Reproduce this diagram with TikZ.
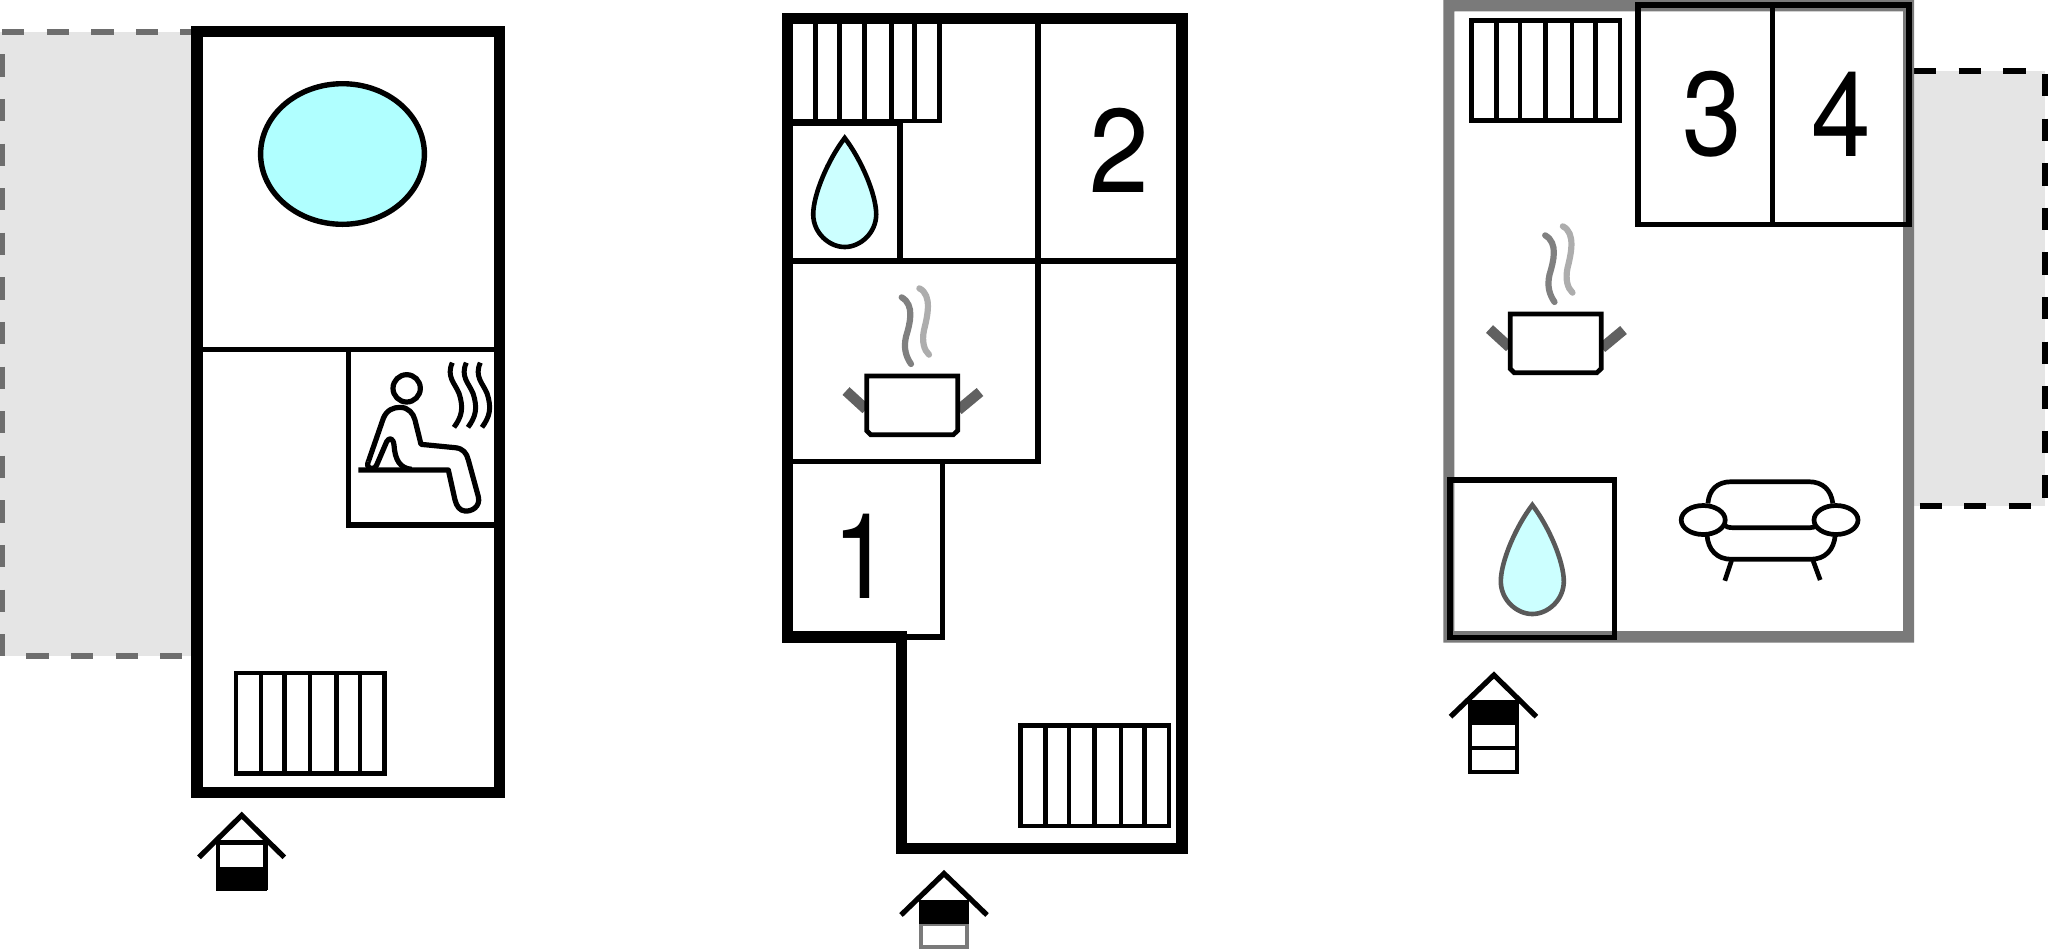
\documentclass[tikz,border=0pt]{standalone}
\usepackage{fontspec}
\setmainfont{TeX Gyre Heros}
\definecolor{yard}{HTML}{E5E5E5}
\definecolor{wallgray}{HTML}{7A7A7A}
\definecolor{dashgray}{HTML}{6E6E6E}
\definecolor{pool}{HTML}{B0FFFF}
\definecolor{dropblue}{HTML}{CCFFFF}
\tikzset{
  wall/.style={draw=black,line width=5.75pt,miter limit=10},
  partition/.style={draw=black,line width=2.7pt},
  furn/.style={draw=black,line width=2.35pt},
  yarddash/.style={line width=2.8pt,dash pattern=on 11.15pt off 11.15pt},
  digit/.style={inner sep=0pt,anchor=base,xscale=.9,font=\fontsize{59.5}{60}\selectfont},
}
\newcommand{\radiatoricon}[2]{%
  \begin{scope}[shift={(#1,#2)}]
    \draw[furn] (0,0) rectangle (148.5,100.5);
    \foreach \vx in {25,48.5,74,100.5,124} \draw[furn] (\vx,0) -- (\vx,100.5);
  \end{scope}}
\newcommand{\dropicon}[4]{%
  \begin{scope}[shift={(#1,#2)},xscale=31.5,yscale=109]
    \draw[line width=2.3pt,draw=#3,fill=#4,line join=miter]
      (0,0) .. controls (-.53,.2) and (-1,.52) .. (-1,.7)
      .. controls (-1,.87) and (-.5,1) .. (0,1)
      .. controls (.5,1) and (1,.87) .. (1,.7)
      .. controls (1,.52) and (.53,.2) .. (0,0) -- cycle;
  \end{scope}}
\newcommand{\poticon}[2]{%
  \begin{scope}[shift={(#1,#2)},scale=.33333]
    \draw[line width=5.2pt,draw=black!62] (78,333) -- (138,388);
    \draw[line width=5.2pt,draw=black!62] (480,336) -- (415,390);
    \draw[line width=3.1pt,draw=black!50,line cap=round]
      (245,52) .. controls (285,75) and (270,130) .. (258,170)
      .. controls (250,205) and (258,230) .. (273,252);
    \draw[line width=3.1pt,draw=black!32,line cap=round]
      (298,25) .. controls (338,45) and (322,110) .. (312,150)
      .. controls (305,185) and (312,210) .. (327,224);
    \draw[furn,fill=white] (140,288) -- (413,288) -- (413,452) -- (400,464) -- (152,464) -- (140,452) -- cycle;
  \end{scope}}
\begin{document}
\begin{tikzpicture}[x=.5pt,y=-.5pt]
\useasboundingbox (0,0) rectangle (2048,949);
% ---------- left plan
\fill[yard] (0,32) rectangle (191,656);
\draw[yarddash,dashgray] (2,32) -- (191,32);
\draw[yarddash,dashgray,dash phase=11.15pt] (2,32) -- (2,658);
\draw[yarddash,dashgray,dash phase=11.15pt] (4,656) -- (191,656);
\fill[white] (197,31) rectangle (499,792);
\draw[partition] (197,349.5) -- (499,349.5);
\draw[partition] (348.5,349.5) -- (348.5,525) -- (499,525);
\draw[wall] (197,31.5) rectangle (499.5,792.5);
\draw[line width=2.7pt,fill=pool] (342.5,154) ellipse [x radius=81.9,y radius=70.3];
\radiatoricon{236}{673}
% entrance left
\fill[black] (216,866.7) rectangle (267.3,890.7);
\draw[furn] (218,842.7) rectangle (265.3,888);
\draw[line width=2.6pt] (199,857.3) -- (241.7,815.3) -- (284.3,857.3);
% sauna figure
\begin{scope}[shift={(340,350)},scale=.33333]
  \draw[line width=2.6pt] (200,115) circle [radius=41];
  \draw[line width=2.6pt,line join=round]
    (85,335) -- (130,205) .. controls (140,180) and (160,172) .. (180,172)
    .. controls (205,172) and (220,190) .. (225,210) -- (243,283) -- (345,293)
    .. controls (370,295) and (380,310) .. (385,330) -- (415,440)
    .. controls (422,470) and (395,485) .. (375,483)
    .. controls (360,482) and (350,470) .. (345,450) -- (325,360) -- (55,360);
  \draw[line width=2.6pt,line join=round]
    (85,335) .. controls (75,355) and (100,365) .. (110,345) -- (140,275)
    .. controls (148,260) and (160,265) .. (162,285)
    .. controls (165,330) and (180,355) .. (215,358);
  \foreach \wx in {0,42,84}
    \draw[line width=2.5pt,xshift=\wx*.5pt]
      (337,38) .. controls (318,80) and (345,100) .. (357,130)
      .. controls (372,175) and (365,200) .. (342,232);
\end{scope}
% ---------- middle plan
\radiatoricon{790.7}{20.5}
\radiatoricon{1020.5}{725.5}
\draw[partition] (793,261) -- (1177,261);
\draw[partition] (1038,24) -- (1038,461.3) -- (793,461.3);
\draw[partition] (942.7,461.3) -- (942.7,637) -- (905,637);
\draw[partition] (793,123.5) -- (900,123.5) -- (900,261);
\draw[wall] (787.7,18.5) -- (1182,18.5) -- (1182,848.3) -- (901.7,848.3) -- (901.7,637) -- (787.7,637) -- cycle;
\dropicon{844.7}{138}{black}{dropblue}
\poticon{820}{280}
\node[digit] (two) at (1119.5,192.3) {2};
\node[digit] (one) at (862.5,598.3) {1};
% entrance middle
\draw[line width=2.2pt,draw=wallgray] (921,924) rectangle (967,947);
\fill[black] (919,900) rectangle (969,924);
\draw[line width=2.6pt] (901,915) -- (944,873.5) -- (987,915);
% ---------- right plan
\fill[yard] (1914,70.7) rectangle (2045,506);
\draw[yarddash,black] (1914,70.7) -- (2040,70.7);
\draw[yarddash,black] (2045,74) -- (2045,500);
\draw[yarddash,black] (1919.5,506) -- (2040,506);
\fill[wallgray,even odd rule] (1443.4,0) rectangle (1914,642.7) (1454.4,11.3) rectangle (1903,631);
\radiatoricon{1471.6}{20.2}
\draw[line width=2.7pt] (1638,5) rectangle (1909,224.5);
\draw[partition] (1772.5,5) -- (1772.5,224.5);
\node[digit] (three) at (1711.8,155.7) {3};
\node[digit] (four) at (1841.6,156) {4};
\poticon{1463.5}{218}
\draw[line width=2.9pt] (1449.8,480) -- (1614.5,480) -- (1614.5,637.5) -- (1449.8,637.5) -- cycle;
\dropicon{1532.3}{505}{black!65}{dropblue}
% sofa
\draw[furn] (1707.9,503.3) .. controls (1709,490) and (1717,481.7) .. (1731.5,481.7) -- (1808.4,481.7) .. controls (1823,481.7) and (1831,490) .. (1832.8,503.3);
\draw[furn] (1707,535) .. controls (1708,550) and (1717,559.3) .. (1731.5,559.3) -- (1810.4,559.3) .. controls (1825,559.3) and (1834,550) .. (1835.2,535);
\draw[furn] (1723.7,525) .. controls (1726,527) and (1729,527.7) .. (1733.5,527.7) -- (1810,527.7) .. controls (1813,527.7) and (1815,527) .. (1816.3,525);
\draw[furn] (1703.2,520) ellipse [x radius=22,y radius=14.5];
\draw[furn] (1836,520) ellipse [x radius=22,y radius=14.5];
\draw[furn] (1731.5,560.7) -- (1724.8,580.7);
\draw[furn] (1813.1,560.7) -- (1820.2,580);
% entrance right
\fill[black] (1467.8,700) rectangle (1519,725);
\draw[furn] (1470,702) rectangle (1517,772);
\draw[furn] (1470,748) -- (1517,748);
\draw[line width=2.6pt] (1450.5,716.7) -- (1493.9,675) -- (1536.4,716.7);
\end{tikzpicture}
\end{document}
